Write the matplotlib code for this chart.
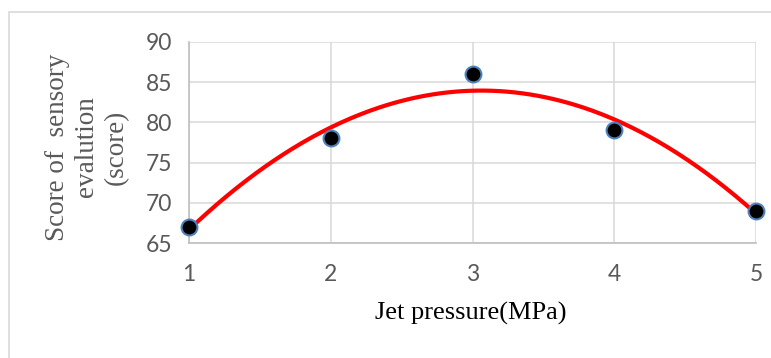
import numpy as np
import matplotlib
matplotlib.use("Agg")
import matplotlib.pyplot as plt
from matplotlib.patches import Rectangle

pressure = [1, 2, 3, 4, 5]
score = [67, 78, 86, 79, 69]
y_ticks = [65, 70, 75, 80, 85, 90]
x_ticks = [1, 2, 3, 4, 5]

W, H = 771, 358
fig = plt.figure(figsize=(W / 100, H / 100), dpi=100)

# outer chart border
fig.patches.append(Rectangle((9 / W, -0.1), 1.0, (H - 12) / H + 0.1,
                             transform=fig.transFigure, fill=False,
                             edgecolor="#d9d9d9", linewidth=1.2))

ax = fig.add_axes([189 / W, (H - 243) / H, 567 / W, 201 / H])
ax.set_xlim(1, 5)
ax.set_ylim(65, 90)
ax.set_xticks(x_ticks)
ax.set_yticks(y_ticks)
ax.grid(True, color="#d9d9d9", linewidth=1.1)
ax.set_axisbelow(True)
for s in ["top", "right"]:
    ax.spines[s].set_visible(False)
for s in ["left", "bottom"]:
    ax.spines[s].set_color("#bfbfbf")
    ax.spines[s].set_linewidth(1.2)
ax.tick_params(length=0, labelsize=16.5, labelcolor="#595959")
ax.tick_params(axis="y", pad=12)
ax.tick_params(axis="x", pad=15)
for lab in ax.get_xticklabels() + ax.get_yticklabels():
    lab.set_family("Lato")

# quadratic trendline fitted to the data
coef = np.polyfit(pressure, score, 2)
xs = np.linspace(min(pressure), max(pressure), 300)
ax.plot(xs, np.polyval(coef, xs), color="#ff0000", linewidth=3, clip_on=False, zorder=3)

ax.scatter(pressure, score, s=130, color="black", edgecolors="#4f81bd",
           linewidths=1.5, zorder=4, clip_on=False)

fig.text(87 / W, 1 - 147 / H, "Score of  sensory\nevalution\n(score)",
         rotation=90, ha="center", va="center", fontsize=19.5,
         family="Liberation Serif", color="#595959", linespacing=1.25,
         multialignment="center")
fig.text(471 / W, 1 - 313 / H, "Jet pressure(MPa)", ha="center", va="center",
         fontsize=19, family="Liberation Serif", color="black")

fig.savefig("out.png", dpi=100)
